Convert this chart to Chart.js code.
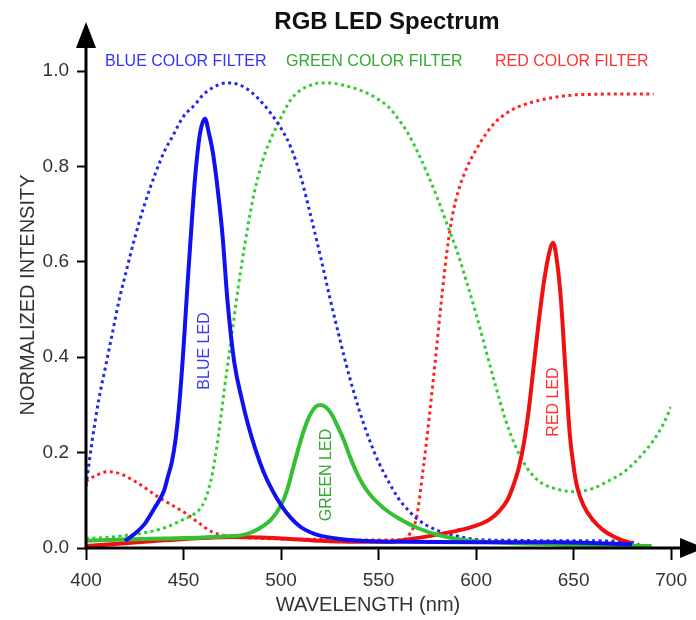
<!DOCTYPE html>
<html>
<head>
<meta charset="utf-8">
<title>RGB LED Spectrum</title>
<script src="https://cdn.jsdelivr.net/npm/chart.js@4.4.1/dist/chart.umd.min.js"></script>
<style>
  html, body { margin: 0; padding: 0; background: #fff; }
  #spectrum { display: block; }
</style>
</head>
<body>
<canvas id="spectrum" width="696" height="620"></canvas>
<script>
// values (wavelength in nm, normalized intensity)
const xTicks = [400, 450, 500, 550, 600, 650, 700]
const yTicks = [0, 0.2, 0.4, 0.6, 0.8, 1.0]

const blueLedNm = [420, 425, 430, 435, 440, 442, 444, 446, 448, 450, 452, 454, 456, 458.5, 461, 463, 465, 467, 470, 472.5, 476, 480, 483, 487, 491, 495, 500, 505, 510, 515, 520, 530, 540, 560, 600, 640, 680]
const blueLedVal = [0.015, 0.03, 0.05, 0.083, 0.12, 0.15, 0.18, 0.23, 0.31, 0.42, 0.55, 0.67, 0.78, 0.87, 0.90, 0.87, 0.83, 0.77, 0.655, 0.52, 0.39, 0.31, 0.26, 0.205, 0.16, 0.125, 0.09, 0.063, 0.044, 0.033, 0.026, 0.019, 0.015, 0.013, 0.012, 0.012, 0.008]

const greenLedNm = [400, 420, 440, 460, 475, 480, 485, 490, 495, 500, 503, 506, 509, 512, 515, 518, 520.5, 523, 526, 529, 532, 535, 538, 541, 545, 550, 555, 560, 570, 580, 590, 600, 620, 650, 690]
const greenLedVal = [0.015, 0.018, 0.02, 0.022, 0.025, 0.027, 0.033, 0.044, 0.06, 0.09, 0.12, 0.165, 0.21, 0.25, 0.28, 0.297, 0.30, 0.295, 0.28, 0.255, 0.228, 0.195, 0.165, 0.14, 0.115, 0.093, 0.076, 0.063, 0.042, 0.028, 0.019, 0.014, 0.01, 0.007, 0.004]

const redLedNm = [400, 420, 440, 460, 475, 490, 505, 520, 540, 555, 565, 580, 590, 600, 607, 612, 616, 619, 622, 624.5, 627, 629.5, 632, 634.5, 637, 639.5, 641.5, 643.5, 645.7, 648, 650, 652, 655, 660, 665, 670, 675, 680]
const redLedVal = [0.004, 0.01, 0.016, 0.021, 0.023, 0.022, 0.019, 0.015, 0.013, 0.013, 0.018, 0.028, 0.036, 0.047, 0.06, 0.078, 0.10, 0.13, 0.17, 0.22, 0.29, 0.38, 0.47, 0.55, 0.61, 0.64, 0.60, 0.52, 0.38, 0.24, 0.17, 0.125, 0.09, 0.058, 0.038, 0.025, 0.016, 0.01]

const blueFilterNm = [400, 403, 406.5, 410, 413.5, 417, 420, 425, 430, 436, 440, 444, 450, 456, 460, 465, 472, 478, 485, 491, 495, 500, 505, 510, 515, 520, 525, 530, 535, 540, 545, 550, 555, 560, 565, 570, 580, 590, 600, 620, 640, 660, 680, 685]
const blueFilterVal = [0.13, 0.22, 0.31, 0.38, 0.45, 0.52, 0.57, 0.65, 0.72, 0.79, 0.83, 0.86, 0.905, 0.93, 0.95, 0.965, 0.975, 0.972, 0.955, 0.93, 0.91, 0.88, 0.84, 0.78, 0.70, 0.615, 0.525, 0.44, 0.36, 0.29, 0.23, 0.18, 0.14, 0.105, 0.08, 0.06, 0.037, 0.025, 0.018, 0.016, 0.015, 0.015, 0.012, 0.003]

const greenFilterNm = [400, 410, 420, 430, 440, 450, 455, 458, 461, 463, 465, 467, 469, 471, 473.5, 476, 478, 480, 483, 486, 489, 492, 495, 498.5, 501.5, 505, 510, 515, 520, 525, 530, 537.5, 545, 550, 555, 560, 565, 570, 575, 580, 585, 590, 595, 600, 605, 610, 615, 620, 625, 630, 635, 640, 645, 651, 660, 667.5, 675, 681, 686, 691, 696, 700]
const greenFilterVal = [0.02, 0.022, 0.026, 0.032, 0.042, 0.06, 0.07, 0.08, 0.10, 0.125, 0.16, 0.21, 0.27, 0.335, 0.41, 0.485, 0.545, 0.60, 0.675, 0.74, 0.79, 0.83, 0.86, 0.89, 0.915, 0.94, 0.96, 0.97, 0.975, 0.975, 0.972, 0.964, 0.952, 0.94, 0.925, 0.90, 0.87, 0.83, 0.785, 0.735, 0.68, 0.625, 0.56, 0.49, 0.415, 0.34, 0.27, 0.215, 0.175, 0.148, 0.133, 0.125, 0.12, 0.118, 0.125, 0.14, 0.157, 0.178, 0.20, 0.226, 0.26, 0.296]

const redFilterNm = [400, 405, 411.5, 418, 425, 431, 437, 444, 451, 458, 464.5, 470, 476, 485, 500, 520, 540, 555, 563, 566, 569.5, 573, 576, 579, 582, 585, 588, 591, 595, 600, 605, 610, 615, 620, 625, 634, 642, 651, 660, 670, 680, 691]
const redFilterVal = [0.14, 0.152, 0.16, 0.155, 0.14, 0.124, 0.107, 0.09, 0.073, 0.052, 0.034, 0.027, 0.023, 0.021, 0.019, 0.018, 0.017, 0.017, 0.018, 0.03, 0.065, 0.17, 0.275, 0.39, 0.51, 0.62, 0.70, 0.75, 0.795, 0.835, 0.868, 0.893, 0.91, 0.922, 0.93, 0.94, 0.946, 0.95, 0.951, 0.952, 0.952, 0.952]

const FONT = '"Liberation Sans", Arial, sans-serif'
Chart.defaults.font.family = FONT

function points(nm, val) {
   return nm.map((x, i) => ({ x: x, y: val[i] }))
}

function led(data, color) {
   return {
      data: data,
      borderColor: color,
      borderWidth: 4,
      pointRadius: 0,
      cubicInterpolationMode: 'monotone',
      fill: false
   }
}

function filter(data, color) {
   return {
      data: data,
      borderColor: color,
      borderWidth: 3,
      borderDash: [3, 3.5],
      pointRadius: 0,
      cubicInterpolationMode: 'monotone',
      fill: false
   }
}

// title, captions, axis lines and arrow heads
const decor = {
   id: 'decor',
   afterDraw(chart) {
      const ctx = chart.ctx
      const { left, right, top, bottom } = chart.chartArea
      ctx.save()

      ctx.strokeStyle = '#000'
      ctx.fillStyle = '#000'
      ctx.lineWidth = 3
      ctx.beginPath()
      ctx.moveTo(left, bottom + 1.5)
      ctx.lineTo(left, 46)
      ctx.moveTo(left - 1.5, bottom)
      ctx.lineTo(682, bottom)
      ctx.stroke()

      ctx.beginPath()
      ctx.moveTo(left, 22)
      ctx.lineTo(left - 10, 48)
      ctx.lineTo(left + 10, 48)
      ctx.closePath()
      ctx.fill()
      ctx.beginPath()
      ctx.moveTo(705, bottom)
      ctx.lineTo(680, bottom - 10)
      ctx.lineTo(680, bottom + 10)
      ctx.closePath()
      ctx.fill()

      ctx.textBaseline = 'middle'
      ctx.textAlign = 'center'
      ctx.fillStyle = '#111'
      ctx.font = 'bold 24px ' + FONT
      ctx.fillText('RGB LED Spectrum', 387, 22)

      ctx.fillStyle = '#333'
      ctx.font = '20px ' + FONT
      ctx.fillText('WAVELENGTH (nm)', 368, 605)
      ctx.save()
      ctx.translate(28, 295)
      ctx.rotate(-Math.PI / 2)
      ctx.fillText('NORMALIZED INTENSITY', 0, 0)
      ctx.restore()

      ctx.textAlign = 'left'
      ctx.font = '16px ' + FONT
      ctx.fillStyle = '#3333ff'
      ctx.fillText('BLUE COLOR FILTER', 105, 62)
      ctx.fillStyle = '#33a833'
      ctx.fillText('GREEN COLOR FILTER', 286, 62)
      ctx.fillStyle = '#ff3333'
      ctx.fillText('RED COLOR FILTER', 495, 62)

      const side = [
         ['BLUE LED', 204.5, 351, '#3a3aee'],
         ['GREEN LED', 326.5, 475, '#33a833'],
         ['RED LED', 553.5, 402, '#ff3030']
      ]
      ctx.textAlign = 'center'
      side.forEach(([text, x, y, color]) => {
         ctx.save()
         ctx.translate(x, y)
         ctx.rotate(-Math.PI / 2)
         ctx.fillStyle = color
         ctx.font = '16px ' + FONT
         ctx.fillText(text, 0, 0)
         ctx.restore()
      })
      ctx.restore()
   }
}

new Chart(document.getElementById('spectrum'), {
   type: 'line',
   data: {
      datasets: [
         led(points(blueLedNm, blueLedVal), '#1010f0'),
         led(points(greenLedNm, greenLedVal), '#33c133'),
         led(points(redLedNm, redLedVal), '#f01010'),
         filter(points(blueFilterNm, blueFilterVal), '#2525f0'),
         filter(points(greenFilterNm, greenFilterVal), '#33cc33'),
         filter(points(redFilterNm, redFilterVal), '#ff2222')
      ]
   },
   options: {
      responsive: false,
      animation: false,
      devicePixelRatio: 1,
      layout: { padding: { top: 71, right: 17, left: 0, bottom: 0 } },
      plugins: {
         legend: { display: false },
         title: { display: false },
         tooltip: { enabled: false }
      },
      scales: {
         x: {
            type: 'linear',
            min: 400,
            max: 700,
            afterBuildTicks: (scale) => { scale.ticks = xTicks.map(v => ({ value: v })) },
            afterFit: (scale) => { scale.height = 72 },
            border: { display: false },
            grid: { drawOnChartArea: false, drawTicks: true, tickLength: 12, tickWidth: 2, tickColor: '#000' },
            ticks: { color: '#333', font: { size: 19 }, padding: 9, maxRotation: 0 }
         },
         y: {
            type: 'linear',
            min: 0,
            max: 1,
            afterBuildTicks: (scale) => { scale.ticks = yTicks.map(v => ({ value: v })) },
            afterFit: (scale) => { scale.width = 86 },
            border: { display: false },
            grid: { drawOnChartArea: false, drawTicks: true, tickLength: 9, tickWidth: 2, tickColor: '#000' },
            ticks: { color: '#333', font: { size: 19 }, padding: 8, callback: (v) => v.toFixed(1) }
         }
      }
   },
   plugins: [decor]
})
</script>
</body>
</html>
